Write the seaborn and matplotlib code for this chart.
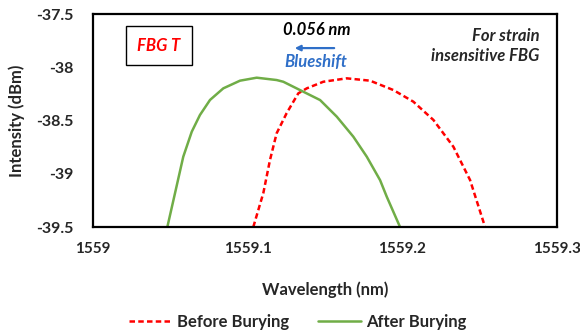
import numpy as np
import pandas as pd
import matplotlib
matplotlib.use("Agg")
import matplotlib.pyplot as plt
import seaborn as sns

# spectra
before_wl = [1559.1037, 1559.1102, 1559.1145, 1559.1188, 1559.1253, 1559.1328, 1559.1383,
             1559.1490, 1559.1641, 1559.1792, 1559.1943, 1559.2072, 1559.2202, 1559.2331,
             1559.2439, 1559.2536]
before_db = [-39.50, -39.18, -38.87, -38.62, -38.43, -38.245, -38.198,
             -38.136, -38.104, -38.126, -38.214, -38.323, -38.495, -38.746,
             -39.059, -39.50]

after_wl = [1559.0481, 1559.0531, 1559.0584, 1559.0639, 1559.0692, 1559.0757, 1559.0843,
            1559.0951, 1559.1059, 1559.1188, 1559.1231, 1559.1361, 1559.1469, 1559.1577,
            1559.1684, 1559.1771, 1559.1857, 1559.1900, 1559.1986]
after_db = [-39.50, -39.18, -38.84, -38.605, -38.448, -38.307, -38.198,
            -38.126, -38.098, -38.12, -38.136, -38.23, -38.308, -38.464,
            -38.652, -38.84, -39.06, -39.215, -39.50]

series = ["Before Burying", "After Burying"]
shift_label = "0.056 nm"

df = pd.concat([
    pd.DataFrame({"Wavelength": before_wl, "Intensity": before_db, "Series": series[0]}),
    pd.DataFrame({"Wavelength": after_wl, "Intensity": after_db, "Series": series[1]}),
])

sns.set_style("white")
plt.rcParams["font.family"] = ["Lato", "DejaVu Sans"]
plt.rcParams["font.weight"] = "bold"

fig = plt.figure(figsize=(5.8, 3.36), dpi=100)
ax = fig.add_axes([0.1603, 0.3244, 0.7997, 0.6339])

sns.lineplot(data=df, x="Wavelength", y="Intensity", hue="Series", style="Series",
             palette={series[0]: "#FF0000", series[1]: "#70AD47"},
             dashes={series[0]: (2.2, 1.3), series[1]: ""},
             sort=False, estimator=None, linewidth=1.8, ax=ax)

ax.set_xlim(1559, 1559.3)
ax.set_ylim(-39.5, -37.5)
ax.set_xticks([1559, 1559.1, 1559.2, 1559.3])
ax.set_xticklabels(["1559", "1559.1", "1559.2", "1559.3"])
ax.set_yticks([-39.5, -39, -38.5, -38, -37.5])
ax.set_yticklabels(["-39.5", "-39", "-38.5", "-38", "-37.5"])
ax.tick_params(axis="x", length=0, labelsize=11, pad=11)
ax.tick_params(axis="y", length=0, labelsize=11.5, pad=14)
for lab in ax.get_xticklabels() + ax.get_yticklabels():
    lab.set_fontweight("bold")
for s in ax.spines.values():
    s.set_linewidth(1.6)
    s.set_color("black")

ax.set_xlabel("Wavelength (nm)", fontsize=12, fontweight="bold", labelpad=18)
ax.set_ylabel("Intensity (dBm)", fontsize=12, fontweight="bold", labelpad=8)

ax.text(0.142, 0.852, "FBG T", transform=ax.transAxes, ha="center", va="center",
        color="red", fontsize=12, fontweight="bold", fontstyle="italic",
        bbox=dict(boxstyle="square,pad=0.7", fc="white", ec="black", lw=1))
ax.text(0.483, 0.925, shift_label, transform=ax.transAxes, ha="center", va="center",
        fontsize=12, fontweight="bold", fontstyle="italic", color="black")
ax.annotate("", xy=(0.429, 0.840), xytext=(0.526, 0.840), xycoords="axes fraction",
            arrowprops=dict(arrowstyle="-|>", color="#2F6FC8", lw=1.6, mutation_scale=8))
ax.text(0.481, 0.775, "Blueshift", transform=ax.transAxes, ha="center", va="center",
        fontsize=12, fontweight="bold", fontstyle="italic", color="#2F6FC8")
ax.text(0.962, 0.85, "For strain\ninsensitive FBG", transform=ax.transAxes, ha="right",
        va="center", fontsize=12, fontweight="bold", fontstyle="italic",
        linespacing=1.35)

handles, labels = ax.get_legend_handles_labels()
ax.legend(handles, labels, loc="center", bbox_to_anchor=(0.441, -0.446), ncol=2,
          frameon=False, prop={"weight": "bold", "size": 12}, handlelength=2.6,
          handletextpad=0.3, columnspacing=1.7)

fig.savefig("out.png", dpi=100)
